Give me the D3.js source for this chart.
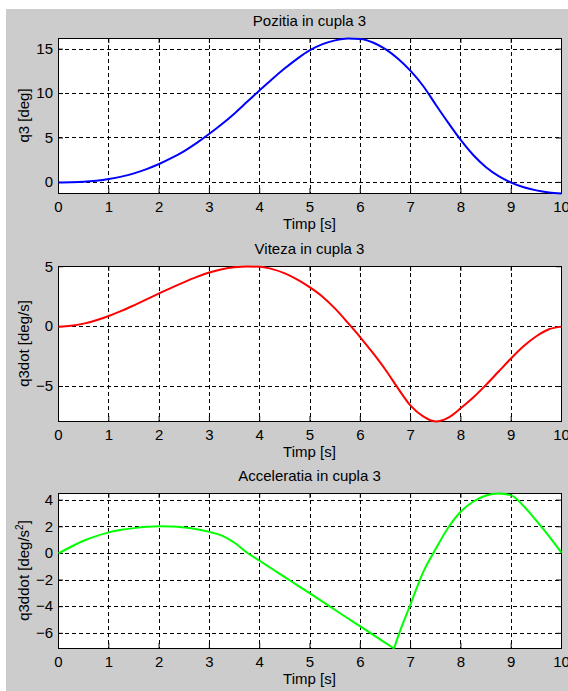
<!DOCTYPE html>
<html lang="en">
<head>
<meta charset="UTF-8" />
<title>Pozitia, viteza si acceleratia in cupla 3</title>
<script src="https://d3js.org/d3.v7.min.js"></script>
<style>
  body { margin: 0; background: #fff; }
  svg { display: block; }
  .grid line { stroke: #000; stroke-width: 1; stroke-dasharray: 4, 3; }
  .axis path { display: none; }
  .axis line { stroke: #000; }
  .axis text, .lbl { font: 15px "Liberation Sans", Arial, sans-serif; fill: #000; }
  .box { fill: #fff; stroke: #000; stroke-width: 1; }
</style>
</head>
<body>
<div id="chart"></div>
<script>
// time axis [s]
const timeS = [0, 0.25, 0.5, 0.75, 1, 1.25, 1.5, 1.75, 2, 2.25, 2.5, 2.75, 3, 3.25, 3.5, 3.75,
  4, 4.25, 4.5, 4.75, 5, 5.25, 5.5, 5.75, 6, 6.25, 6.5, 6.75, 7, 7.25, 7.5, 7.75,
  8, 8.25, 8.5, 8.75, 9, 9.25, 9.5, 9.75, 10];

// q3 [deg]
const q3Deg = [0, 0.02, 0.07, 0.19, 0.38, 0.65, 1.02, 1.5, 2.07, 2.75, 3.53, 4.45, 5.47, 6.57,
  7.77, 9.07, 10.37, 11.64, 12.84, 13.94, 14.89, 15.57, 15.99, 16.2, 16.14, 15.75, 15.0,
  13.92, 12.55, 10.85, 8.75, 6.7, 4.75, 3.05, 1.7, 0.7, -0.02, -0.55, -0.9, -1.13, -1.25];

// q3dot [deg/s]
const q3dotDegS = [0, 0.07, 0.25, 0.53, 0.89, 1.31, 1.78, 2.27, 2.77, 3.26, 3.72, 4.15, 4.52,
  4.79, 4.95, 5.02, 4.99, 4.8, 4.45, 3.93, 3.28, 2.5, 1.5, 0.33, -0.89, -2.2, -3.6, -5.15,
  -6.6, -7.5, -7.92, -7.6, -6.8, -5.9, -4.86, -3.75, -2.64, -1.62, -0.8, -0.22, 0];

// acceleration has its own time samples (corner at 6.67 s)
const accTimeS = [0, 0.25, 0.5, 0.75, 1, 1.25, 1.5, 1.75, 2, 2.25, 2.5, 2.75, 3, 3.25, 3.5,
  3.75, 4, 4.25, 4.5, 4.75, 5, 5.25, 5.5, 5.75, 6, 6.25, 6.5, 6.67, 6.75, 7, 7.25, 7.5,
  7.75, 8, 8.25, 8.5, 8.75, 9, 9.25, 9.5, 9.75, 10];

// q3ddot [deg/s^2]
const q3ddotDegS2 = [0, 0.5, 0.95, 1.3, 1.58, 1.77, 1.9, 2.0, 2.05, 2.03, 1.95, 1.82, 1.62,
  1.34, 0.8, 0.05, -0.55, -1.17, -1.78, -2.4, -3.0, -3.62, -4.25, -4.87, -5.48, -6.1, -6.72,
  -7.14, -6.25, -3.8, -1.4, 0.35, 1.95, 3.15, 3.9, 4.35, 4.5, 4.36, 3.55, 2.46, 1.3, 0.05];

const titles = ["Pozitia in cupla 3", "Viteza in cupla 3", "Acceleratia in cupla 3"];
const yLabels = ["q3 [deg]", "q3dot [deg/s]", "q3ddot [deg/s"];
const xLabel = "Timp [s]";
const xTicks = [0, 1, 2, 3, 4, 5, 6, 7, 8, 9, 10];
const q3Ticks = [0, 5, 10, 15];
const q3dotTicks = [-5, 0, 5];
const q3ddotTicks = [-6, -4, -2, 0, 2, 4];

const width = 568;
const height = 691;
const left = 58;
const right = 561;
const panelTops = [38, 266, 493];
const panelH = 155;

const panels = [
  { title: titles[0], ylabel: yLabels[0], t: timeS, v: q3Deg, ticks: q3Ticks, color: "#0000ff" },
  { title: titles[1], ylabel: yLabels[1], t: timeS, v: q3dotDegS, ticks: q3dotTicks, color: "#ff0000" },
  { title: titles[2], ylabel: yLabels[2], sup: "2", t: accTimeS, v: q3ddotDegS2, ticks: q3ddotTicks, color: "#00ff00", splitAtMin: true }
];

const svg = d3.select("#chart").append("svg")
  .attr("width", width)
  .attr("height", height);

// grey figure background
svg.append("rect")
  .attr("x", 6).attr("y", 9)
  .attr("width", width - 6).attr("height", height - 9)
  .attr("fill", "#cccccc");

const x = d3.scaleLinear().domain([0, 10]).range([0, right - left]);

panels.forEach((p, i) => {
  const top = panelTops[i];
  const y = d3.scaleLinear().domain(d3.extent(p.v)).range([panelH, 0]);
  const g = svg.append("g").attr("transform", `translate(${left},${top})`);

  g.append("rect").attr("class", "box")
    .attr("x", 0.5).attr("y", 0.5)
    .attr("width", right - left).attr("height", panelH);

  // dotted grid
  const grid = g.append("g").attr("class", "grid");
  grid.selectAll(".gx").data(xTicks).join("line")
    .attr("x1", d => Math.round(x(d)) + 0.5).attr("x2", d => Math.round(x(d)) + 0.5)
    .attr("y1", 0).attr("y2", panelH);
  grid.selectAll(".gy").data(p.ticks).join("line")
    .attr("class", "gy")
    .attr("x1", 0).attr("x2", right - left)
    .attr("y1", d => Math.round(y(d)) + 0.5).attr("y2", d => Math.round(y(d)) + 0.5);

  // inward ticks on all four sides
  g.append("g").attr("class", "axis")
    .attr("transform", `translate(0,${panelH})`)
    .call(d3.axisBottom(x).tickValues(xTicks).tickSize(-5).tickPadding(8).tickFormat(d3.format("d")));
  g.append("g").attr("class", "axis")
    .call(d3.axisTop(x).tickValues(xTicks).tickSize(-5).tickFormat(""));
  g.append("g").attr("class", "axis")
    .call(d3.axisLeft(y).tickValues(p.ticks).tickSize(-5).tickPadding(5).tickFormat(d3.format("d")));
  g.append("g").attr("class", "axis")
    .attr("transform", `translate(${right - left},0)`)
    .call(d3.axisRight(y).tickValues(p.ticks).tickSize(-5).tickFormat(""));

  // curve
  const pts = p.t.map((t, k) => [t, p.v[k]]);
  const segs = [];
  if (p.splitAtMin) {
    const k = d3.minIndex(p.v);
    segs.push(pts.slice(0, k + 1), pts.slice(k));
  } else {
    segs.push(pts);
  }
  const line = d3.line()
    .x(d => x(d[0]) + 0.5)
    .y(d => y(d[1]) + 0.5)
    .curve(d3.curveMonotoneX);
  g.selectAll(".curve").data(segs).join("path")
    .attr("class", "curve")
    .attr("d", line)
    .attr("fill", "none")
    .attr("stroke", p.color)
    .attr("stroke-width", 2)
    .attr("stroke-linejoin", "round");

  // texts
  g.append("text").attr("class", "lbl")
    .attr("x", (right - left) / 2).attr("y", -12.5)
    .attr("text-anchor", "middle")
    .text(p.title);
  g.append("text").attr("class", "lbl")
    .attr("x", (right - left) / 2).attr("y", panelH + 36)
    .attr("text-anchor", "middle")
    .text(xLabel);
  const yl = svg.append("text").attr("class", "lbl")
    .attr("transform", `translate(28.5,${top + panelH / 2}) rotate(-90)`)
    .attr("text-anchor", "middle")
    .text(p.ylabel);
  if (p.sup) {
    yl.append("tspan").attr("dy", -6).style("font-size", "10px").text(p.sup);
    yl.append("tspan").attr("dy", 6).text("]");
  }
});
</script>
</body>
</html>
